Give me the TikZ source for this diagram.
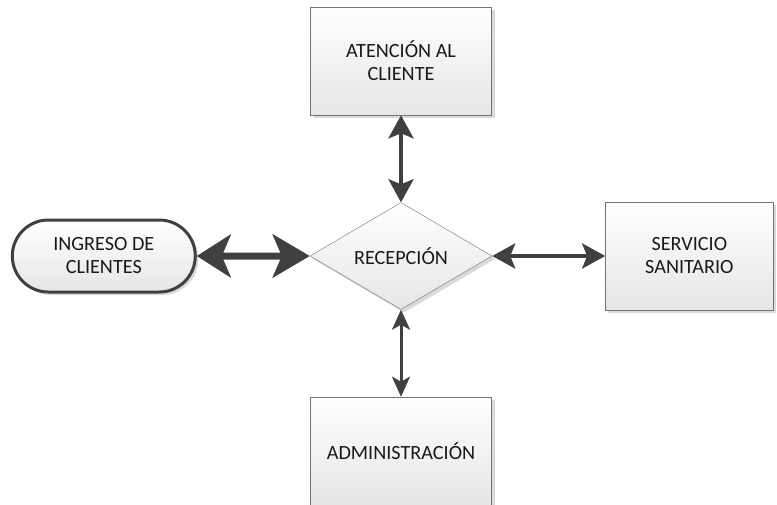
\documentclass[tikz,border=0pt]{standalone}
\usepackage{fontspec}
\setmainfont{Carlito}
\usetikzlibrary{positioning,shapes.geometric,shapes.misc,arrows.meta,shadows}

\begin{document}
\begin{tikzpicture}[%
		x=1pt,y=-1pt,
		font=\fontsize{20.2}{23}\selectfont,
		every node/.style={align=center,text=black!90},
		sombra/.style={drop shadow={shadow xshift=3pt,shadow yshift=-3pt,fill=black!25,opacity=0.6}},
		caja/.style={draw=black!55,top color=white,bottom color=black!10,sombra,
			minimum width=181pt,minimum height=108pt,inner sep=0pt},
		rombo/.style={diamond,aspect=1.7,draw=black!55,top color=white,bottom color=black!10,sombra,
			minimum width=182pt,minimum height=107pt,inner sep=0pt},
		inicio/.style={rounded rectangle,draw=black!75,line width=3pt,top color=white,bottom color=black!10,sombra,
			minimum width=183pt,minimum height=72pt,inner sep=0pt},
		flecha/.style={{Stealth[length=23pt,width=25pt,inset=5pt]}-{Stealth[length=23pt,width=25pt,inset=5pt]},
			line width=4pt,draw=black!75}]
		\useasboundingbox (0,0) rectangle (777,504);
		\node[rombo](rec)at(401,256){RECEPCIÓN};
		\node[caja,above=87pt of rec](ate){ATENCIÓN AL\\CLIENTE};
		\node[caja,below=87pt of rec](adm){ADMINISTRACIÓN};
		\node[inicio,left=113pt of rec](ing){INGRESO DE\\CLIENTES};
		\node[caja,minimum width=168pt,right=113pt of rec](ser){SERVICIO\\SANITARIO};
		\draw[flecha](ate)--(rec.north);
		\draw[flecha](rec.east)--(ser);
		\draw[flecha,line width=3pt,{Stealth[length=20pt,width=18pt,inset=5pt]}-{Stealth[length=20pt,width=18pt,inset=5pt]}](rec.south)--(adm);
		\draw[flecha,line width=7pt,{Stealth[length=34pt,width=43pt,inset=9pt]}-{Stealth[length=37pt,width=43pt,inset=9pt]}](ing)--(rec.west);
	\end{tikzpicture}
\end{document}
